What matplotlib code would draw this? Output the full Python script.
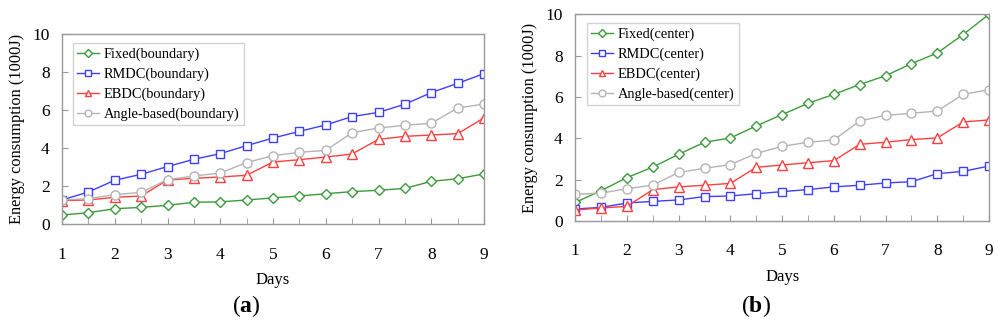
import matplotlib
matplotlib.use("Agg")
import matplotlib.pyplot as plt
from matplotlib.ticker import MultipleLocator

plt.rcParams['font.family'] = ['Liberation Serif', 'DejaVu Serif']
plt.rcParams['mathtext.fontset'] = 'custom'
plt.rcParams['mathtext.rm'] = 'Liberation Serif'
plt.rcParams['mathtext.bf'] = 'Liberation Serif:bold'

days = [1, 1.5, 2, 2.5, 3, 3.5, 4, 4.5, 5, 5.5, 6, 6.5, 7, 7.5, 8, 8.5, 9]

fixed_a = [0.49, 0.61, 0.82, 0.89, 1.00, 1.16, 1.18, 1.28, 1.39, 1.49, 1.61, 1.72, 1.79, 1.89, 2.26, 2.40, 2.65]
rmdc_a = [1.28, 1.70, 2.32, 2.63, 3.04, 3.42, 3.72, 4.14, 4.54, 4.89, 5.23, 5.67, 5.89, 6.32, 6.93, 7.42, 7.93]
ebdc_a = [1.25, 1.28, 1.42, 1.49, 2.33, 2.42, 2.49, 2.58, 3.28, 3.40, 3.54, 3.70, 4.47, 4.63, 4.70, 4.77, 5.60]
angle_a = [1.28, 1.35, 1.56, 1.68, 2.35, 2.54, 2.70, 3.25, 3.61, 3.79, 3.89, 4.82, 5.07, 5.21, 5.32, 6.12, 6.33]

fixed_b = [0.90, 1.47, 2.10, 2.61, 3.23, 3.81, 4.02, 4.60, 5.15, 5.69, 6.13, 6.60, 7.03, 7.61, 8.13, 9.02, 10.0]
rmdc_b = [0.58, 0.66, 0.87, 0.95, 1.02, 1.18, 1.21, 1.32, 1.42, 1.52, 1.65, 1.73, 1.84, 1.90, 2.29, 2.40, 2.66]
ebdc_b = [0.53, 0.63, 0.71, 1.52, 1.65, 1.73, 1.82, 2.60, 2.71, 2.82, 2.92, 3.71, 3.81, 3.94, 4.02, 4.79, 4.89]
angle_b = [1.29, 1.35, 1.56, 1.74, 2.35, 2.55, 2.73, 3.27, 3.61, 3.81, 3.92, 4.84, 5.11, 5.21, 5.32, 6.13, 6.35]

labels_a = ["Fixed(boundary)", "RMDC(boundary)", "EBDC(boundary)", "Angle-based(boundary)"]
labels_b = ["Fixed(center)", "RMDC(center)", "EBDC(center)", "Angle-based(center)"]
panel_tags = ["a", "b"]

colors = ["#3c9b3c", "#3f3fff", "#ff3f3f", "#b4b4b4"]
markers = ["D", "s", "^", "o"]
msizes = [5.5, 5.5, 6.5, 6.5]

fig = plt.figure(figsize=(10, 3.27), dpi=100)

ax_a = fig.add_axes([0.062, 1 - 224.3 / 327, 0.422, 190 / 327])
ax_b = fig.add_axes([0.5753, 1 - 221 / 327, 0.4137, 206.7 / 327])


def draw(ax, series, labels, legend_bbox):
    for y, lab, c, m, ms in zip(series, labels, colors, markers, msizes):
        ax.plot(days, y, color=c, marker=m, markersize=ms, markerfacecolor="white",
                markeredgecolor=c, markeredgewidth=1.0, linewidth=1.0, label=lab)
    ax.set_xlim(1, 9)
    ax.set_ylim(0, 10)
    ax.xaxis.set_major_locator(MultipleLocator(1))
    ax.xaxis.set_minor_locator(MultipleLocator(0.5))
    ax.yaxis.set_major_locator(MultipleLocator(2))
    ax.tick_params(axis="x", which="both", direction="in", length=4, color="#999999",
                   pad=16, labelsize=12.5)
    ax.tick_params(axis="y", direction="in", length=4, color="#999999", pad=9, labelsize=12.5)
    for s in ax.spines.values():
        s.set_color("#999999")
        s.set_linewidth(1.0)
    ax.set_xlabel("Days", fontsize=12, labelpad=7)
    ax.set_ylabel("Energy consumption (1000J)", fontsize=11.8, labelpad=5)
    leg = ax.legend(loc="upper left", bbox_to_anchor=legend_bbox, fontsize=10.4,
                    frameon=True, fancybox=False, edgecolor="#c8c8c8",
                    handlelength=1.5, handletextpad=0.35, borderpad=0.3,
                    labelspacing=0.45, borderaxespad=0, markerscale=0.75)
    leg.get_frame().set_linewidth(1.0)


draw(ax_a, [fixed_a, rmdc_a, ebdc_a, angle_a], labels_a, (0.025, 0.954))
draw(ax_b, [fixed_b, rmdc_b, ebdc_b, angle_b], labels_b, (0.028, 0.958))

for x, letter in zip([0.246, 0.756], panel_tags):
    fig.text(x, 1 - 306 / 327, r"($\mathbf{" + letter + r"}$)", fontsize=17,
             ha="center", va="center")

fig.savefig("out.png", dpi=100)
